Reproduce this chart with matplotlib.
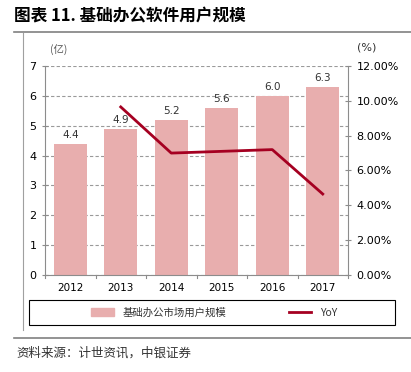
import numpy as np
import matplotlib
matplotlib.use("Agg")
import matplotlib.pyplot as plt
from matplotlib.lines import Line2D
from matplotlib.patches import Rectangle

plt.rcParams['font.family'] = ['Noto Sans CJK SC', 'DejaVu Sans']

years = ["2012", "2013", "2014", "2015", "2016", "2017"]
users = [4.4, 4.9, 5.2, 5.6, 6.0, 6.3]
user_labels = ["4.4", "4.9", "5.2", "5.6", "6.0", "6.3"]
yoy_years = ["2013", "2014", "2015", "2016", "2017"]
yoy = [9.65, 7.0, 7.1, 7.2, 4.65]

bar_color = "#E8AEAE"
line_color = "#A50021"
grid_color = "#8C8C8C"

fig = plt.figure(figsize=(4.11, 3.72), dpi=100)
ax = fig.add_axes([45 / 411, 1 - 275 / 372, 303 / 411, 209 / 372])

x = np.arange(len(years))
ax.bar(x, users, width=0.66, color=bar_color, zorder=2)
for xi, v, lab in zip(x, users, user_labels):
    ax.text(xi, v + 0.12, lab, ha="center", va="bottom", fontsize=7.5,
            color="#333333", family="DejaVu Sans")

ax.set_xlim(-0.5, len(years) - 0.5)
ax.set_ylim(0, 7)
ax.set_yticks(range(0, 8))
ax.set_xticks(x)
ax.set_xticklabels(years, fontsize=7.5, family="DejaVu Sans")
ax.tick_params(axis="y", labelsize=8, direction="inout", length=5, color=grid_color)
ax.tick_params(axis="x", length=0, pad=6)
for lab in ax.get_yticklabels():
    lab.set_family("DejaVu Sans")
for xb in np.arange(-0.5, len(years), 1.0):
    ax.plot([xb, xb], [0, -0.1], color=grid_color, lw=0.8, clip_on=False)
ax.yaxis.grid(True, linestyle=(0, (3, 2)), color="#9A9A9A", lw=0.8, zorder=0)
ax.set_axisbelow(True)
for side in ["top", "right"]:
    ax.spines[side].set_visible(False)
ax.spines["left"].set_color(grid_color)
ax.spines["bottom"].set_color(grid_color)

ax2 = ax.twinx()
yoy_x = [years.index(y) for y in yoy_years]
ax2.plot(yoy_x, yoy, color=line_color, lw=2, zorder=3)
ax2.set_ylim(0, 12)
ax2.set_yticks(np.arange(0, 13, 2))
ax2.set_yticklabels([f"{v:.2f}%" for v in np.arange(0, 13, 2)], fontsize=8,
                    family="DejaVu Sans")
ax2.tick_params(axis="y", direction="inout", length=5, color=grid_color)
for side in ["top", "left", "bottom"]:
    ax2.spines[side].set_visible(False)
ax2.spines["right"].set_color(grid_color)

fig.text(50 / 411, 1 - 50 / 372, "(亿)", fontsize=7.5, color="#555555", va="center")
fig.text(357 / 411, 1 - 47 / 372, "(%)", fontsize=8, color="#333333", va="center",
         family="DejaVu Sans")

# title and frame lines
fig.text(14 / 411, 1 - 15 / 372, "图表 11. 基础办公软件用户规模", fontsize=12,
         fontweight="bold", va="center")
fig.add_artist(Line2D([14 / 411, 1], [1 - 32 / 372] * 2, color="#808080", lw=1.2))
fig.add_artist(Line2D([23 / 411, 23 / 411], [1 - 33 / 372, 1 - 330 / 372],
                      color="#A0A0A0", lw=0.8))
fig.add_artist(Line2D([14 / 411, 1], [1 - 338 / 372] * 2, color="#808080", lw=1.2))

# legend box
fig.add_artist(Rectangle((29 / 411, 1 - 325 / 372), 366 / 411, 25 / 372,
                         transform=fig.transFigure, fill=False,
                         edgecolor="black", lw=0.8))
handles = [Rectangle((0, 0), 1, 1, color=bar_color),
           Line2D([0], [0], color=line_color, lw=2)]
leg = fig.legend(handles, ["基础办公市场用户规模", "YoY"], loc="center",
                 bbox_to_anchor=(214 / 411, 1 - 312.5 / 372), ncol=2, fontsize=7.5,
                 frameon=False, columnspacing=6, handlelength=2.2)
for t in leg.get_texts():
    t.set_color("#333333")

fig.text(16 / 411, 1 - 353 / 372, "资料来源：计世资讯，中银证券", fontsize=9,
         style="italic", color="#333333", va="center")

fig.savefig("out.png", dpi=100)
